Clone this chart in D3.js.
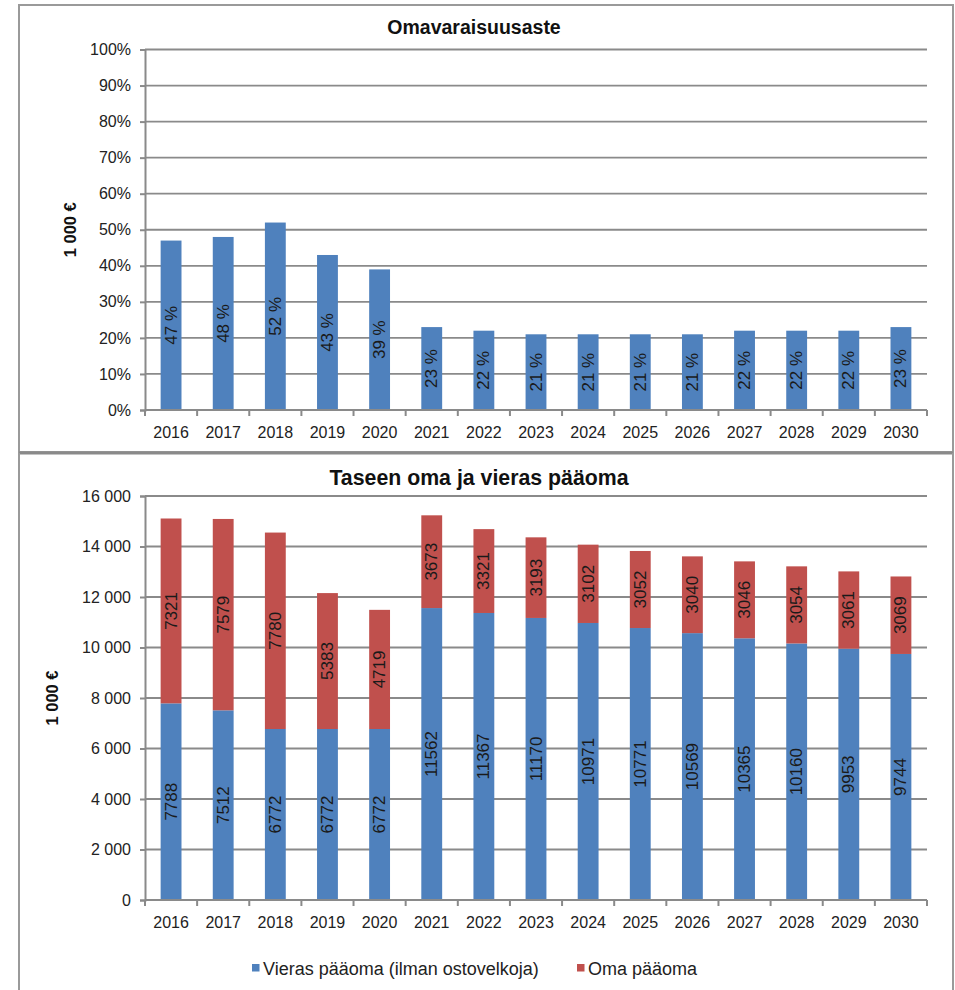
<!DOCTYPE html>
<html>
<head>
<meta charset="utf-8">
<script src="https://cdn.jsdelivr.net/npm/d3@7"></script>
<style>
  html, body { margin: 0; padding: 0; background: #fff; }
  svg { display: block; font-family: "Liberation Sans", Arial, sans-serif; }
</style>
</head>
<body>
<svg id="chart" width="955" height="990"></svg>
<script>
// Vuodet ja sarjat
const years = ["2016","2017","2018","2019","2020","2021","2022","2023","2024","2025","2026","2027","2028","2029","2030"];
const equityRatio = [47, 48, 52, 43, 39, 23, 22, 21, 21, 21, 21, 22, 22, 22, 23];
const debtValues = [7788, 7512, 6772, 6772, 6772, 11562, 11367, 11170, 10971, 10771, 10569, 10365, 10160, 9953, 9744];
const equityValues = [7321, 7579, 7780, 5383, 4719, 3673, 3321, 3193, 3102, 3052, 3040, 3046, 3054, 3061, 3069];
const pctTicks = [0, 10, 20, 30, 40, 50, 60, 70, 80, 90, 100];
const eurTicks = [0, 2000, 4000, 6000, 8000, 10000, 12000, 14000, 16000];
const seriesNames = ["Vieras pääoma (ilman ostovelkoja)", "Oma pääoma"];
const seriesColors = ["#4f81bd", "#c0504d"];

const svg = d3.select("#chart");
const gridColor = "#8a8a8a";
const textColor = "#222";
const fi = d3.formatLocale({ decimal: ",", thousands: "\u00a0", grouping: [3], currency: ["", " €"] });
const fmtEur = fi.format(",d");

// Kehykset
const frame = svg.append("g").attr("fill", "none").attr("stroke", "#9a9a9a");
frame.append("rect").attr("x", 19).attr("y", 5).attr("width", 934).attr("height", 447).attr("stroke-width", 2);
frame.append("line").attr("x1", 19).attr("x2", 953).attr("y1", 453).attr("y2", 453).attr("stroke-width", 3).attr("stroke", "#8a8a8a");
frame.append("line").attr("x1", 19).attr("x2", 19).attr("y1", 453).attr("y2", 990).attr("stroke-width", 2);
frame.append("line").attr("x1", 953).attr("x2", 953).attr("y1", 453).attr("y2", 990).attr("stroke-width", 2);

const xLeft = 145, xRight = 927;

function drawPanel(cfg) {
  const g = svg.append("g");
  const x = d3.scaleBand().domain(years).range([xLeft, xRight]).paddingInner(0.6).paddingOuter(0.3);
  const y = d3.scaleLinear().domain(cfg.domain).range([cfg.bottom, cfg.top]);
  const step = x.step();

  // Otsikko
  g.append("text").attr("x", cfg.titleX).attr("y", cfg.titleY).attr("text-anchor", "middle")
    .attr("font-size", cfg.titleSize).attr("font-weight", "bold").attr("fill", "#111").text(cfg.title);

  // Y-akselin otsikko
  g.append("text").attr("transform", `translate(${cfg.yTitleX},${(cfg.top + cfg.bottom) / 2}) rotate(-90)`)
    .attr("text-anchor", "middle").attr("font-size", 16.5).attr("font-weight", "bold").attr("fill", "#111").text("1 000 €");

  // Apuviivat
  g.append("g").selectAll("line").data(cfg.ticks.filter(t => t !== cfg.domain[0])).join("line")
    .attr("x1", xLeft).attr("x2", xRight).attr("y1", d => y(d)).attr("y2", d => y(d))
    .attr("stroke", gridColor).attr("stroke-width", 1.8);

  // Y-akseli
  const yAxis = d3.axisLeft(y).tickValues(cfg.ticks).tickSize(5).tickPadding(9).tickFormat(cfg.tickFormat);
  const ya = g.append("g").attr("transform", `translate(${xLeft},0)`).call(yAxis);
  ya.select(".domain").attr("stroke", gridColor).attr("stroke-width", 2);
  ya.selectAll(".tick line").attr("stroke", gridColor).attr("stroke-width", 2);
  ya.selectAll(".tick text").attr("font-size", 16).attr("fill", textColor).attr("font-family", "Liberation Sans, Arial, sans-serif");

  // Pylväät
  cfg.drawBars(g, x, y);

  // X-akseli
  const xa = g.append("g").attr("transform", `translate(0,${cfg.bottom})`);
  xa.append("line").attr("x1", xLeft).attr("x2", xRight).attr("stroke", gridColor).attr("stroke-width", 2);
  xa.selectAll("line.tk").data(d3.range(years.length + 1)).join("line").attr("class", "tk")
    .attr("x1", i => xLeft + i * step).attr("x2", i => xLeft + i * step).attr("y1", 0).attr("y2", 6)
    .attr("stroke", gridColor).attr("stroke-width", 2);
  xa.selectAll("text").data(years).join("text")
    .attr("x", d => x(d) + x.bandwidth() / 2).attr("y", 28).attr("text-anchor", "middle")
    .attr("font-size", 16).attr("fill", textColor).text(d => d);
  return { x, y };
}

function vLabel(g, cx, cy, txt) {
  g.append("text").attr("transform", `translate(${cx},${cy}) rotate(-90)`)
    .attr("text-anchor", "middle").attr("dominant-baseline", "central")
    .attr("font-size", 17).attr("fill", "#1a1a1a").text(txt);
}

// Omavaraisuusaste
drawPanel({
  title: "Omavaraisuusaste", titleX: 474, titleY: 34, titleSize: 19.5, yTitleX: 76,
  top: 49.5, bottom: 410, domain: [0, 100], ticks: pctTicks, tickFormat: d => d + "%",
  drawBars: (g, x, y) => {
    const bars = g.append("g");
    years.forEach((yr, i) => {
      const v = equityRatio[i];
      bars.append("rect").attr("x", x(yr)).attr("width", x.bandwidth())
        .attr("y", y(v)).attr("height", y(0) - y(v)).attr("fill", seriesColors[0]);
      vLabel(bars, x(yr) + x.bandwidth() / 2, (y(0) + y(v)) / 2, v + " %");
    });
  }
});

// Taseen oma ja vieras pääoma
drawPanel({
  title: "Taseen oma ja vieras pääoma", titleX: 479, titleY: 485, titleSize: 21.3, yTitleX: 58,
  top: 496, bottom: 900, domain: [0, 16000], ticks: eurTicks, tickFormat: d => fmtEur(d),
  drawBars: (g, x, y) => {
    const rows = years.map((yr, i) => ({ year: yr, debt: debtValues[i], equity: equityValues[i] }));
    const stacked = d3.stack().keys(["debt", "equity"])(rows);
    const bars = g.append("g");
    stacked.forEach((layer, li) => {
      layer.forEach(seg => {
        const yr = seg.data.year;
        bars.append("rect").attr("x", x(yr)).attr("width", x.bandwidth())
          .attr("y", y(seg[1])).attr("height", y(seg[0]) - y(seg[1])).attr("fill", seriesColors[li]);
      });
    });
    stacked.forEach(layer => {
      layer.forEach(seg => {
        const yr = seg.data.year;
        vLabel(bars, x(yr) + x.bandwidth() / 2, (y(seg[0]) + y(seg[1])) / 2, String(seg[1] - seg[0]));
      });
    });
  }
});

// Selite
const legend = svg.append("g").attr("font-size", 18).attr("fill", textColor);
const legendItems = [{ x: 252, name: seriesNames[0], color: seriesColors[0] }, { x: 577, name: seriesNames[1], color: seriesColors[1] }];
legendItems.forEach(it => {
  legend.append("rect").attr("x", it.x).attr("y", 964).attr("width", 7.5).attr("height", 7.5).attr("fill", it.color);
  legend.append("text").attr("x", it.x + 11).attr("y", 974.5).attr("fill", textColor).text(it.name);
});
</script>
</body>
</html>
